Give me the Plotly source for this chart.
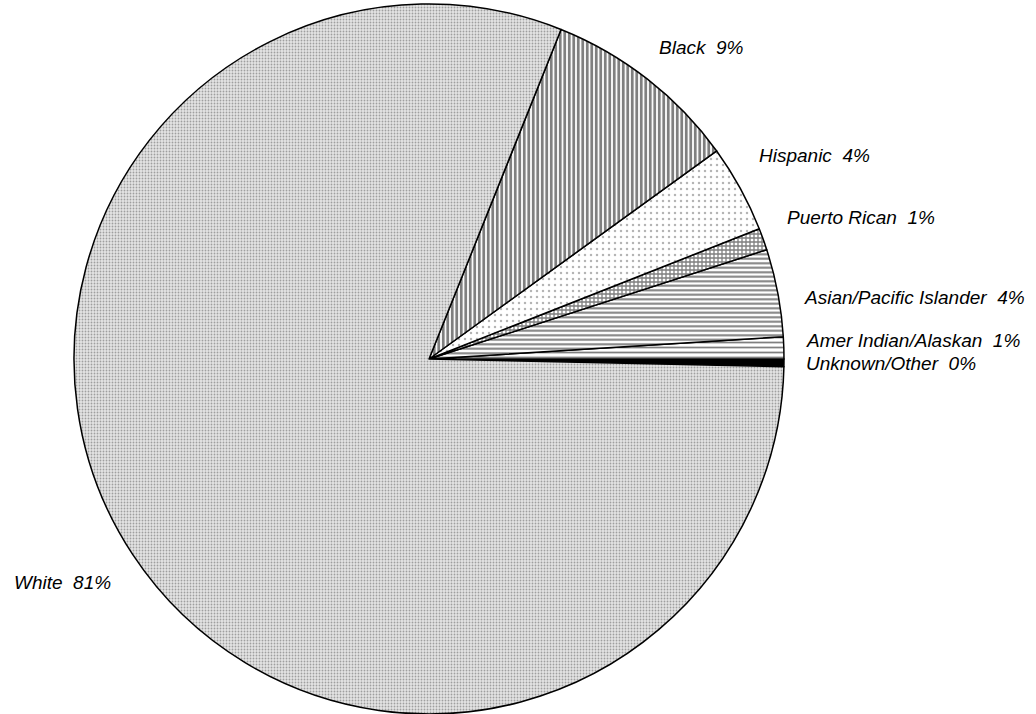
import plotly.graph_objects as go

# Enrollment share by race/ethnicity (percent)
groups = ["Unknown/Other", "Amer Indian/Alaskan", "Asian/Pacific Islander",
          "Puerto Rican", "Hispanic", "Black", "White"]
shares = [0.35, 1, 4, 1, 4, 9, 81]

# Fill textures for each slice, in the same order as groups
pattern_shapes = ["", "-", "-", "+", ".", "|", "."]
pattern_fg = ["#000000", "#000000", "#000000", "#000000", "#6a6a6a", "#000000", "#5a5a5a"]
pattern_bg = ["#000000", "#ffffff", "#ffffff", "#ffffff", "#ffffff", "#ffffff", "#e4e4e4"]
pattern_size = [4, 5, 4.5, 4, 6, 4.5, 3]
pattern_solid = [1, 0.35, 0.45, 0.55, 0.14, 0.62, 0.3]

W, H = 1036, 714
cx, cy, r = 429, 359, 355

fig = go.Figure(go.Pie(
    labels=groups,
    values=shares,
    sort=False,
    direction="counterclockwise",
    rotation=90,
    textinfo="none",
    hoverinfo="label+percent",
    marker=dict(
        colors=pattern_bg,
        line=dict(color="#000000", width=1.5),
        pattern=dict(
            shape=pattern_shapes,
            fgcolor=pattern_fg,
            bgcolor=pattern_bg,
            size=pattern_size,
            solidity=pattern_solid,
            fillmode="overlay",
        ),
    ),
    domain=dict(x=[(cx - r) / W, (cx + r) / W], y=[1 - (cy + r) / H, 1 - (cy - r) / H]),
    showlegend=False,
))

# Slice captions: left edge and vertical centre in pixels
label_pos = {
    "Black": (657, 48),
    "Hispanic": (757, 155),
    "Puerto Rican": (785, 217),
    "Asian/Pacific Islander": (802, 297),
    "Amer Indian/Alaskan": (804, 340),
    "Unknown/Other": (804, 363),
    "White": (12, 582),
}
total = sum(shares)
for g, v in zip(groups, shares):
    px, py = label_pos[g]
    pct = round(100 * v / total)
    fig.add_annotation(
        x=px / W, y=1 - py / H, xref="paper", yref="paper",
        xanchor="left", yanchor="middle", showarrow=False,
        text=f"<i>{g}\u00a0\u00a0{pct}%</i>",
        font=dict(family="Liberation Sans, Arial, sans-serif", size=19, color="#000000"),
    )

fig.update_layout(
    width=W, height=H,
    margin=dict(l=0, r=0, t=0, b=0),
    paper_bgcolor="#ffffff",
    plot_bgcolor="#ffffff",
)

fig.write_html("out.html")
